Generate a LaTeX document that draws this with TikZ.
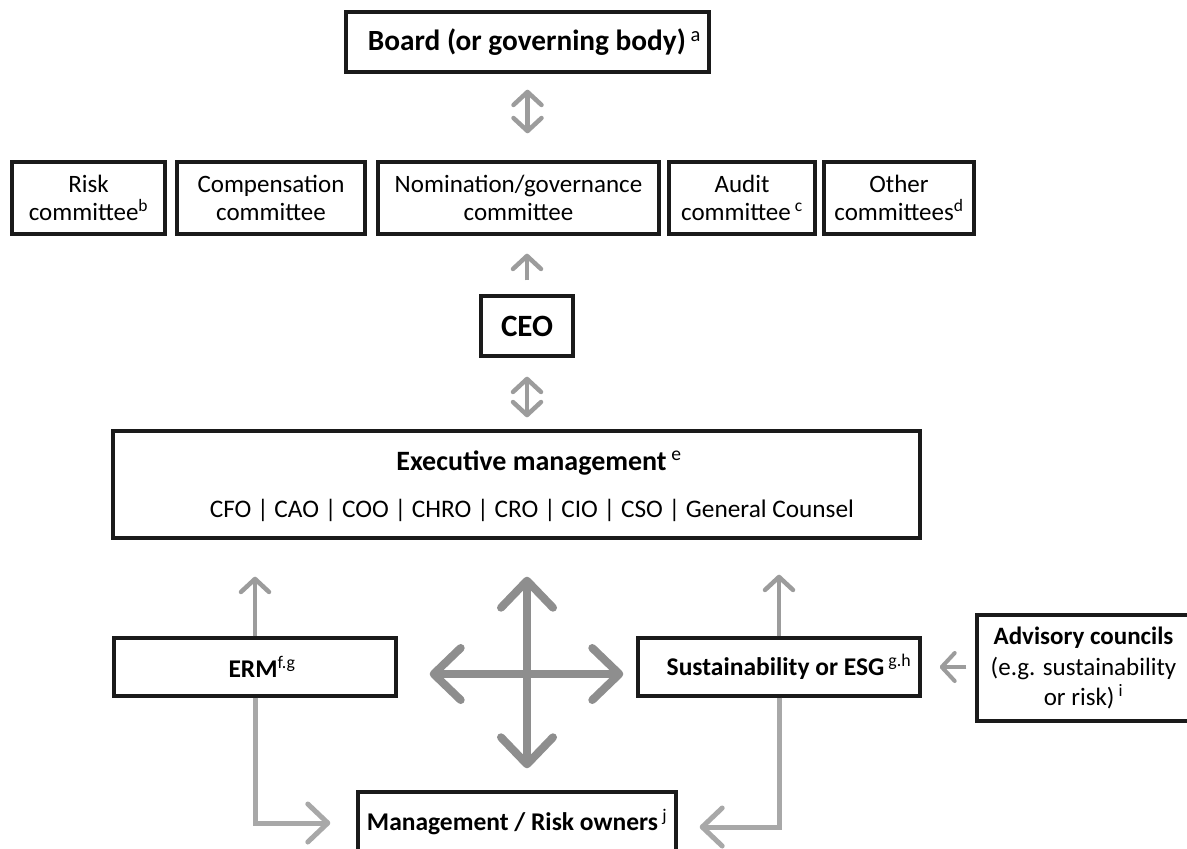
\documentclass[tikz,border=0pt]{standalone}
\usepackage{fontspec}
\setmainfont{Carlito}
\usetikzlibrary{arrows.meta,calc}
\definecolor{arrgray}{HTML}{9C9C9C}
\definecolor{crossgray}{HTML}{8E8E8E}
\definecolor{elbowgray}{HTML}{A8A8A8}
\definecolor{boxline}{HTML}{1A1A1A}
% footnote marker, set upright and light
\newcommand\fnmark[1]{\textsuperscript{\mdseries #1}}
\begin{document}
\begin{tikzpicture}[x=1pt,y=-1pt,
  box/.style={draw=boxline, line width=3.4pt, inner sep=0pt, align=center,
    font=\fontsize{25}{28.5}\selectfont},
  bbox/.style={box, font=\fontsize{25.5}{29}\selectfont\bfseries},
  txt/.style={inner sep=0pt, anchor=base},
  smallarr/.style={draw=arrgray, line width=4.5pt, -{Straight Barb[length=13pt,width=28pt,round]}},
  smalldbl/.style={draw=arrgray, line width=4.5pt,
    {Straight Barb[length=13pt,width=28pt,round]}-{Straight Barb[length=13pt,width=28pt,round]}},
  elbowarr/.style={draw=elbowgray, line width=5pt,
    -{Straight Barb[length=20pt,width=38pt,round]}},
  crossarr/.style={draw=crossgray, line width=8pt,
    {Straight Barb[length=27pt,width=52pt,round]}-{Straight Barb[length=27pt,width=52pt,round]}}
]
\useasboundingbox (0,0) rectangle (1187,849);
\fill[white] (0,0) rectangle (1187,849);

% governing body and its committees
\node[bbox, minimum width=363, minimum height=60, font=\fontsize{29.3}{33}\selectfont\bfseries]
  (board) at (527.5,42) {\hspace*{14pt}Board (or governing body)\,\fnmark{a}};

\node[box, minimum width=153, minimum height=72] (risk)  at (88.5,198) {Risk\\committee\fnmark{b}};
\node[box, minimum width=188, minimum height=72] (comp)  at (271,198)  {Compensation\\committee};
\node[box, minimum width=281, minimum height=72] (nom)   at (518.5,198) {Nomination/governance\\committee};
\node[box, minimum width=146, minimum height=72] (audit) at (742,198)  {Audit\\committee\,\fnmark{c}};
\node[box, minimum width=150, minimum height=72] (other) at (899,198)  {Other\\committees\fnmark{d}};

% chief executive and executive management
\node[bbox, minimum width=92, minimum height=60, font=\fontsize{31}{35}\selectfont\bfseries]
  (ceo) at (527,326) {CEO};

\node[box, minimum width=807, minimum height=107] (exec) at (516.5,484.5) {};
\node[txt, font=\fontsize{28}{32}\selectfont\bfseries] (exectitle) at (539,470)
  {Executive management\,\fnmark{e}};
\node[txt, font=\fontsize{25.3}{29}\selectfont] (execroles) at (532,517)
  {CFO | CAO | COO | CHRO | CRO | CIO | CSO | General Counsel};

% risk and sustainability functions
\node[bbox, minimum width=282, minimum height=58] (erm)  at (255,667)
  {\hspace*{14pt}ERM\fnmark{f.g}};
\node[bbox, minimum width=282, minimum height=58] (sust) at (779,667)
  {\hspace*{20pt}Sustainability or ESG\,\fnmark{g.h}};
\node[box, minimum width=213, minimum height=106, font=\fontsize{25}{30.5}\selectfont]
  (adv) at (1083.5,668) {\textbf{Advisory councils}\\(e.g. sustainability\\or risk)\,\fnmark{i}};

\node[bbox, minimum width=318, minimum height=60] (mgmt) at (517,822)
  {Management / Risk owners\,\fnmark{j}};

% reporting lines
\draw[smalldbl] ($(board.south)+(0,16)$) -- ($(board.south |- nom.north)+(0,-27)$);
\draw[smallarr] ($(ceo.north)+(0,-14)$) -- ($(ceo.north |- nom.south)+(0,18)$);
\draw[smalldbl] ($(ceo.south)+(0,19)$) -- ($(ceo.south |- exec.north)+(0,-12)$);

\draw[smallarr] (erm.north) -- ($(erm.north |- exec.south)+(0,37)$);
\draw[smallarr] (sust.north) -- ($(sust.north |- exec.south)+(0,35)$);
\draw[smallarr, line width=4pt] ($(adv.west)+(-9,-1)$) -- ($(sust.east)+(18,0)$);

\draw[elbowarr] (erm.south) |- ($(mgmt.west)+(-26,1)$);
\draw[elbowarr] (sust.south) |- ($(mgmt.east)+(22,5)$);

% central four-way exchange
\coordinate (hub) at (527,674);
\draw[crossarr] ($(exec.south -| hub)+(0,37)$) -- ($(mgmt.north -| hub)+(0,-22)$);
\draw[crossarr] ($(erm.east |- hub)+(32,0)$) -- ($(sust.west |- hub)+(-13,0)$);
\end{tikzpicture}
\end{document}
